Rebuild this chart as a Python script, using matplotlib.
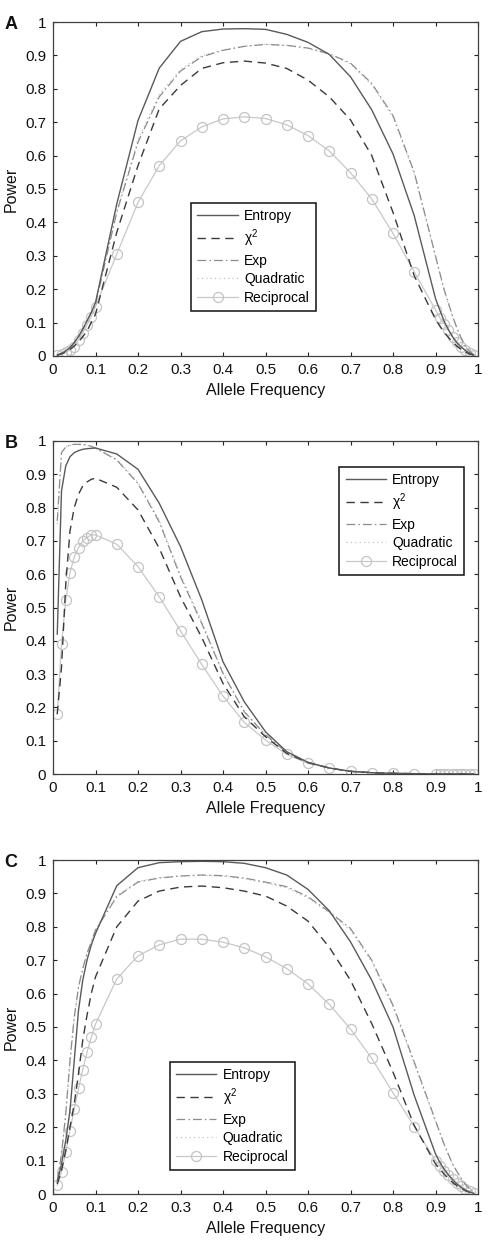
import matplotlib
matplotlib.use("Agg")
import matplotlib.pyplot as plt

plt.rcParams['font.family'] = ['Liberation Sans', 'DejaVu Sans']
plt.rcParams['mathtext.fontset'] = 'custom'
plt.rcParams['mathtext.rm'] = 'Liberation Sans'
plt.rcParams['mathtext.it'] = 'Liberation Sans'

# ---------------- data ----------------
freq = [0.01, 0.02, 0.03, 0.04, 0.05, 0.06, 0.07, 0.08, 0.09, 0.10,
        0.15, 0.20, 0.25, 0.30, 0.35, 0.40, 0.45, 0.50, 0.55, 0.60,
        0.65, 0.70, 0.75, 0.80, 0.85,
        0.90, 0.91, 0.92, 0.93, 0.94, 0.95, 0.96, 0.97, 0.98, 0.99]

labels = ['Entropy', r'$\chi^2$', 'Exp', 'Quadratic', 'Reciprocal']
panel_letters = ['A', 'B', 'C']
x_ticks = [0, 0.1, 0.2, 0.3, 0.4, 0.5, 0.6, 0.7, 0.8, 0.9, 1]
x_ticklabels = ['0', '0.1', '0.2', '0.3', '0.4', '0.5', '0.6', '0.7', '0.8', '0.9', '1']
y_ticks = [0, 0.1, 0.2, 0.3, 0.4, 0.5, 0.6, 0.7, 0.8, 0.9, 1]
y_ticklabels = ['0', '0.1', '0.2', '0.3', '0.4', '0.5', '0.6', '0.7', '0.8', '0.9', '1']

# Panel A
entropy_a = [0.003, 0.008, 0.015, 0.025, 0.040, 0.058, 0.080, 0.105, 0.130, 0.160,
             0.455, 0.705, 0.862, 0.942, 0.971, 0.979, 0.980, 0.978, 0.963, 0.939,
             0.903, 0.836, 0.737, 0.605, 0.420,
             0.172, 0.138, 0.105, 0.080, 0.058, 0.040, 0.027, 0.017, 0.009, 0.003]
chi2_a = [0.002, 0.006, 0.012, 0.020, 0.030, 0.042, 0.058, 0.075, 0.100, 0.125,
          0.370, 0.570, 0.740, 0.810, 0.861, 0.878, 0.883, 0.877, 0.861, 0.826,
          0.776, 0.707, 0.600, 0.430, 0.240,
          0.110, 0.090, 0.072, 0.056, 0.042, 0.030, 0.020, 0.012, 0.006, 0.002]
exp_a = [0.003, 0.008, 0.015, 0.025, 0.040, 0.058, 0.080, 0.105, 0.130, 0.155,
         0.430, 0.640, 0.776, 0.853, 0.896, 0.915, 0.927, 0.933, 0.930, 0.922,
         0.905, 0.877, 0.816, 0.720, 0.550,
         0.300, 0.250, 0.200, 0.160, 0.120, 0.085, 0.055, 0.030, 0.015, 0.004]
quad_a = [0.003, 0.008, 0.015, 0.025, 0.040, 0.058, 0.080, 0.105, 0.132, 0.158,
          0.435, 0.648, 0.783, 0.858, 0.899, 0.917, 0.928, 0.933, 0.930, 0.921,
          0.903, 0.874, 0.812, 0.715, 0.545,
          0.296, 0.246, 0.197, 0.157, 0.118, 0.083, 0.054, 0.030, 0.015, 0.004]
rec_a = [0.002, 0.006, 0.011, 0.018, 0.028, 0.048, 0.070, 0.093, 0.118, 0.148,
         0.305, 0.460, 0.570, 0.644, 0.686, 0.710, 0.716, 0.711, 0.692, 0.660,
         0.614, 0.549, 0.470, 0.367, 0.252,
         0.138, 0.115, 0.097, 0.077, 0.058, 0.042, 0.028, 0.017, 0.008, 0.002]

# Panel B
entropy_b = [0.420, 0.850, 0.925, 0.953, 0.965, 0.971, 0.975, 0.977, 0.978, 0.979,
             0.961, 0.915, 0.813, 0.683, 0.523, 0.337, 0.217, 0.127, 0.067, 0.035,
             0.018, 0.008, 0.004, 0.002, 0.001,
             0.0, 0.0, 0.0, 0.0, 0.0, 0.0, 0.0, 0.0, 0.0, 0.0]
chi2_b = [0.180, 0.320, 0.570, 0.730, 0.800, 0.840, 0.865, 0.877, 0.885, 0.888,
          0.861, 0.793, 0.678, 0.532, 0.410, 0.272, 0.172, 0.112, 0.062, 0.034,
          0.018, 0.008, 0.004, 0.002, 0.001,
          0.0, 0.0, 0.0, 0.0, 0.0, 0.0, 0.0, 0.0, 0.0, 0.0]
exp_b = [0.760, 0.965, 0.982, 0.988, 0.990, 0.990, 0.990, 0.988, 0.984, 0.979,
         0.943, 0.872, 0.757, 0.592, 0.452, 0.302, 0.187, 0.117, 0.065, 0.035,
         0.018, 0.008, 0.004, 0.002, 0.001,
         0.0, 0.0, 0.0, 0.0, 0.0, 0.0, 0.0, 0.0, 0.0, 0.0]
quad_b = [0.750, 0.962, 0.981, 0.987, 0.989, 0.989, 0.989, 0.987, 0.983, 0.978,
          0.945, 0.876, 0.762, 0.598, 0.457, 0.305, 0.189, 0.118, 0.066, 0.035,
          0.018, 0.008, 0.004, 0.002, 0.001,
          0.0, 0.0, 0.0, 0.0, 0.0, 0.0, 0.0, 0.0, 0.0, 0.0]
rec_b = [0.179, 0.389, 0.522, 0.605, 0.652, 0.680, 0.700, 0.710, 0.718, 0.718,
         0.690, 0.623, 0.532, 0.430, 0.329, 0.234, 0.155, 0.102, 0.059, 0.032,
         0.018, 0.008, 0.004, 0.002, 0.001,
         0.0, 0.0, 0.0, 0.0, 0.0, 0.0, 0.0, 0.0, 0.0, 0.0]

# Panel C
entropy_c = [0.035, 0.090, 0.160, 0.250, 0.400, 0.550, 0.640, 0.700, 0.745, 0.780,
             0.923, 0.977, 0.992, 0.995, 0.996, 0.995, 0.990, 0.977, 0.955, 0.912,
             0.848, 0.755, 0.640, 0.500, 0.295,
             0.120, 0.095, 0.075, 0.058, 0.043, 0.030, 0.020, 0.012, 0.006, 0.002]
chi2_c = [0.030, 0.070, 0.130, 0.200, 0.270, 0.360, 0.460, 0.535, 0.600, 0.650,
          0.800, 0.877, 0.907, 0.919, 0.922, 0.917, 0.907, 0.892, 0.862, 0.817,
          0.739, 0.640, 0.510, 0.365, 0.205,
          0.090, 0.075, 0.060, 0.047, 0.035, 0.025, 0.017, 0.010, 0.005, 0.002]
exp_c = [0.040, 0.120, 0.240, 0.400, 0.530, 0.620, 0.675, 0.720, 0.755, 0.790,
         0.890, 0.934, 0.946, 0.952, 0.955, 0.953, 0.946, 0.934, 0.920, 0.890,
         0.845, 0.795, 0.700, 0.565, 0.395,
         0.220, 0.185, 0.150, 0.120, 0.090, 0.068, 0.048, 0.030, 0.015, 0.005]
quad_c = [0.040, 0.118, 0.236, 0.395, 0.525, 0.617, 0.673, 0.719, 0.755, 0.792,
          0.893, 0.936, 0.947, 0.952, 0.954, 0.952, 0.944, 0.931, 0.916, 0.886,
          0.842, 0.790, 0.695, 0.560, 0.390,
          0.216, 0.182, 0.148, 0.118, 0.089, 0.067, 0.047, 0.030, 0.015, 0.005]
rec_c = [0.027, 0.067, 0.125, 0.190, 0.254, 0.316, 0.372, 0.424, 0.469, 0.509,
         0.644, 0.713, 0.746, 0.763, 0.763, 0.754, 0.737, 0.710, 0.675, 0.629,
         0.568, 0.494, 0.406, 0.303, 0.202,
         0.100, 0.085, 0.070, 0.057, 0.045, 0.034, 0.024, 0.015, 0.008, 0.003]

panels = [
    (entropy_a, chi2_a, exp_a, quad_a, rec_a),
    (entropy_b, chi2_b, exp_b, quad_b, rec_b),
    (entropy_c, chi2_c, exp_c, quad_c, rec_c),
]

# ---------------- layout ----------------
W, H = 488, 1242
fig = plt.figure(figsize=(W / 100, H / 100), dpi=100)

# axes boxes in pixels: (left, top, right, bottom)
boxes = [(53, 22, 478, 356), (53, 441, 478, 774), (53, 860, 478, 1194)]
# legend boxes in axes fraction (x0, y_top)
legend_pos = [(0.325, 0.459), (0.674, 0.923), (0.275, 0.396)]

styles = [
    dict(color='#5a5a5a', linestyle='-', linewidth=1.0),
    dict(color='#3a3a3a', linestyle=(0, (6, 4)), linewidth=1.0),
    dict(color='#8c8c8c', linestyle=(0, (7, 2.5, 1.2, 2.5)), linewidth=0.9),
    dict(color='#c4c4c4', linestyle=(0, (1, 2.5)), linewidth=0.9),
    dict(color='#c8c8c8', linestyle='-', linewidth=0.9, marker='o',
         markersize=7.2, markerfacecolor='none', markeredgecolor='#c4c4c4',
         markeredgewidth=0.9),
]

for i, (series, (l, t, r, b)) in enumerate(zip(panels, boxes)):
    ax = fig.add_axes([l / W, 1 - b / H, (r - l) / W, (b - t) / H])
    order = [4, 3, 2, 1, 0]
    hd = {}
    for k in order:
        h, = ax.plot(freq, series[k], label=labels[k], **styles[k])
        hd[k] = h
    ax.set_xlim(0, 1)
    ax.set_ylim(0, 1)
    ax.set_xticks(x_ticks)
    ax.set_xticklabels(x_ticklabels)
    ax.set_yticks(y_ticks)
    ax.set_yticklabels(y_ticklabels)
    ax.tick_params(direction='in', length=3, width=0.8, top=True, right=True,
                   labelsize=11, pad=5, colors='#222222', labelcolor='#111111')
    for sp in ax.spines.values():
        sp.set_linewidth(0.9)
        sp.set_color('#404040')
    ax.set_xlabel('Allele Frequency', fontsize=11.5, color='#111111')
    ax.set_ylabel('Power', fontsize=11.5, color='#111111')
    ax.xaxis.set_label_coords(0.5, -27 / (b - t))
    ax.yaxis.set_label_coords((19 - l) / (r - l), 0.5)

    x0, y1 = legend_pos[i]
    leg = ax.legend([hd[k] for k in range(5)], labels, loc='upper left',
                    bbox_to_anchor=(x0, y1), borderaxespad=0, fancybox=False,
                    framealpha=1, edgecolor='#111111', fontsize=10,
                    handlelength=2.9, handletextpad=0.45, labelspacing=0.33,
                    borderpad=0.45)
    leg.get_frame().set_linewidth(1.1)

    fig.text(11 / W, 1 - 29 / H - (t - 22) / H, panel_letters[i], fontsize=13,
             fontweight='bold', ha='center', va='baseline', color='#111111')

fig.savefig('out.png', dpi=100)
